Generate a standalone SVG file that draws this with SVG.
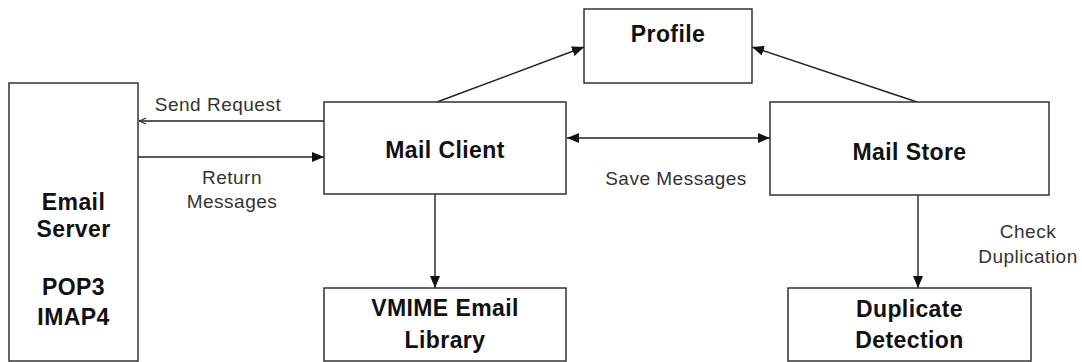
<svg xmlns="http://www.w3.org/2000/svg" width="1082" height="362" viewBox="0 0 1082 362">
  <style>
    .box { fill: #ffffff; stroke: #333333; stroke-width: 1.5; }
    .title { font-family: "Liberation Sans", Arial, sans-serif; font-weight: bold; font-size: 23px; letter-spacing: 0.4px; fill: #111111; text-anchor: middle; }
    .label { font-family: "Liberation Sans", Arial, sans-serif; font-size: 19px; letter-spacing: 0.5px; fill: #333333; text-anchor: middle; }
    .edge { fill: none; stroke: #222222; stroke-width: 1.4; }
    .edge-gray { fill: none; stroke: #666666; stroke-width: 2; }
  </style>
  <defs>
    <marker id="head" viewBox="0 0 12 10" refX="12" refY="5" markerWidth="12" markerHeight="10" markerUnits="userSpaceOnUse" orient="auto-start-reverse">
      <path d="M0,0 L12,5 L0,10 Z" fill="#111111"/>
    </marker>
    <marker id="open-head" viewBox="0 0 8 8" refX="8" refY="4" markerWidth="8" markerHeight="8" markerUnits="userSpaceOnUse" orient="auto">
      <path d="M1,1 L7.5,4 L1,7" fill="none" stroke="#333333" stroke-width="1.3"/>
    </marker>
  </defs>

  <!-- connectors -->
  <g id="connectors">
    <line class="edge" x1="324" y1="121" x2="139" y2="121" marker-end="url(#open-head)"/>
    <line class="edge" x1="138" y1="157" x2="324" y2="157" marker-end="url(#head)"/>
    <line class="edge" x1="567" y1="138" x2="770" y2="138" marker-start="url(#head)" marker-end="url(#head)"/>
    <line class="edge" x1="437" y1="102" x2="584" y2="47" marker-end="url(#head)"/>
    <line class="edge" x1="917" y1="102" x2="752" y2="47" marker-end="url(#head)"/>
    <line class="edge" x1="435" y1="194" x2="435" y2="288" marker-end="url(#head)"/>
    <line class="edge-gray" x1="918" y1="195" x2="918" y2="288" marker-end="url(#head)"/>
    <text class="label" x="218" y="111">Send Request</text>
    <text class="label" x="232" y="184">Return</text>
    <text class="label" x="232" y="208">Messages</text>
    <text class="label" x="676" y="185">Save Messages</text>
    <text class="label" x="1028" y="238">Check</text>
    <text class="label" x="1028" y="263">Duplication</text>
  </g>

  <g id="email-server">
    <rect class="box" x="9" y="83" width="129" height="278"/>
    <text class="title" x="73.5" y="210">Email</text>
    <text class="title" x="73.5" y="237">Server</text>
    <text class="title" x="73.5" y="295">POP3</text>
    <text class="title" x="73.5" y="325">IMAP4</text>
  </g>

  <g id="mail-client">
    <rect class="box" x="324" y="102" width="242" height="92"/>
    <text class="title" x="445" y="158">Mail Client</text>
  </g>

  <g id="profile">
    <rect class="box" x="584" y="9" width="168" height="74"/>
    <text class="title" x="668" y="42">Profile</text>
  </g>

  <g id="mail-store">
    <rect class="box" x="770" y="102" width="279" height="93"/>
    <text class="title" x="909.5" y="160">Mail Store</text>
  </g>

  <g id="vmime-library">
    <rect class="box" x="324" y="288" width="242" height="73"/>
    <text class="title" x="445" y="316">VMIME Email</text>
    <text class="title" x="445" y="348">Library</text>
  </g>

  <g id="duplicate-detection">
    <rect class="box" x="788" y="288" width="243" height="73"/>
    <text class="title" x="909.5" y="317">Duplicate</text>
    <text class="title" x="909.5" y="348">Detection</text>
  </g>
</svg>
